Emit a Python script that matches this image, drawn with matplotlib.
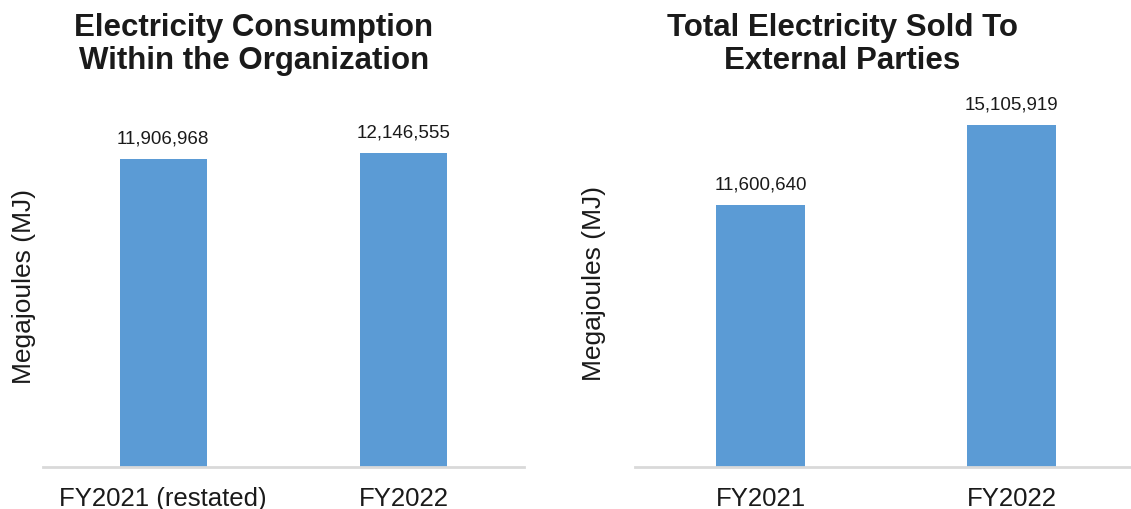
import matplotlib.pyplot as plt

plt.rcParams['font.family'] = ['Liberation Sans', 'DejaVu Sans']

# Electricity figures in megajoules
internal_years = ["FY2021 (restated)", "FY2022"]
internal_mj = [11906968, 12146555]

external_years = ["FY2021", "FY2022"]
external_mj = [11600640, 15105919]

BAR_COLOR = '#5b9bd5'
AXIS_COLOR = '#d9d9d9'


def draw_panel(ax, labels, values, ymax, width):
    x = range(len(labels))
    ax.bar(x, values, width=width, color=BAR_COLOR)
    for xi, v in zip(x, values):
        ax.annotate(f"{v:,}", (xi, v), xytext=(0, 9), textcoords='offset points',
                    ha='center', va='bottom', fontsize=13.5, color='#1a1a1a')
    ax.set_xlim(-0.5, len(labels) - 0.5)
    ax.set_ylim(0, ymax)
    ax.set_xticks(list(x))
    ax.set_xticklabels(labels, fontsize=18.5, color='#1a1a1a')
    ax.tick_params(axis='x', length=0, pad=14)
    ax.set_yticks([])
    for side in ['top', 'right', 'left']:
        ax.spines[side].set_visible(False)
    ax.spines['bottom'].set_color(AXIS_COLOR)
    ax.spines['bottom'].set_linewidth(2)
    ax.set_ylabel("Megajoules (MJ)", fontsize=19, color='#1a1a1a')


fig = plt.figure(figsize=(11.31, 5.10), dpi=100)

ax1 = fig.add_axes([0.038, 0.0824, 0.4253, 0.7098])
draw_panel(ax1, internal_years, internal_mj, 14e6, 0.36)
ax1.yaxis.set_label_coords(-0.015, 0.5)

ax2 = fig.add_axes([0.5614, 0.0824, 0.4439, 0.7098])
draw_panel(ax2, external_years, external_mj, 16e6, 0.355)
ax2.yaxis.set_label_coords(-0.058, 0.51)

fig.text(0.2246, 0.975, "Electricity Consumption\nWithin the Organization",
         ha='center', va='top', fontsize=22.5, fontweight='bold',
         color='#1a1a1a', linespacing=1.12)
fig.text(0.745, 0.975, "Total Electricity Sold To\nExternal Parties",
         ha='center', va='top', fontsize=22.5, fontweight='bold',
         color='#1a1a1a', linespacing=1.12)

fig.savefig('out.png', dpi=100)
